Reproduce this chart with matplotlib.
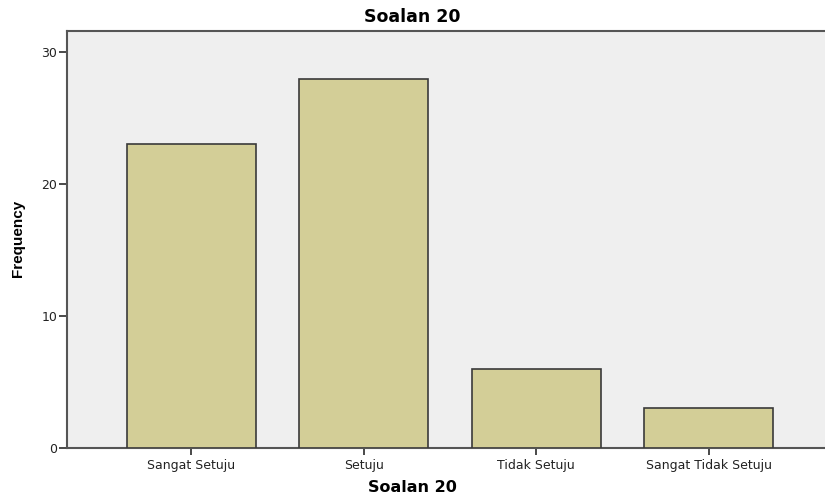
import matplotlib
matplotlib.use('Agg')
import matplotlib.pyplot as plt

categories = ['Sangat Setuju', 'Setuju', 'Tidak Setuju', 'Sangat Tidak Setuju']
frequencies = [23, 28, 6, 3]
y_ticks = [0, 10, 20, 30]

plt.rcParams['font.family'] = ['DejaVu Sans']

fig = plt.figure(figsize=(8.25, 4.95), dpi=100)
ax = fig.add_axes([67 / 825, 1 - 448 / 495, 766 / 825, 417 / 495])
ax.set_facecolor('#efefef')

x = list(range(len(categories)))
ax.bar(x, frequencies, width=0.75, color='#d3ce97', edgecolor='#3a3a3a', linewidth=1.2, zorder=3)

ax.set_xlim(-0.72, 3.72)
ax.set_ylim(0, 31.6)
ax.set_xticks(x)
ax.set_xticklabels(categories, fontsize=9, color='#222222')
ax.set_yticks(y_ticks)
ax.set_yticklabels([str(v) for v in y_ticks], fontsize=9, color='#222222')
ax.tick_params(axis='y', length=6, width=1.3, color='#3a3a3a', pad=1)
ax.tick_params(axis='x', length=5, width=1.3, color='#3a3a3a', pad=3)

for side in ['left', 'bottom', 'top', 'right']:
    ax.spines[side].set_color('#555555')
    ax.spines[side].set_linewidth(1.5)

fig.text(0.5, 1 - 17 / 495, 'Soalan 20', ha='center', va='center', fontsize=12.5, fontweight='bold')
fig.text(0.5, 1 - 487 / 495, 'Soalan 20', ha='center', va='center', fontsize=11.5, fontweight='bold')
fig.text(18 / 825, 1 - 238 / 495, 'Frequency', ha='center', va='center', rotation=90,
         fontsize=11, fontweight='bold', fontstretch='condensed',
         family=['Liberation Sans Narrow', 'Liberation Sans', 'DejaVu Sans'])

fig.savefig('out.png', dpi=100)
